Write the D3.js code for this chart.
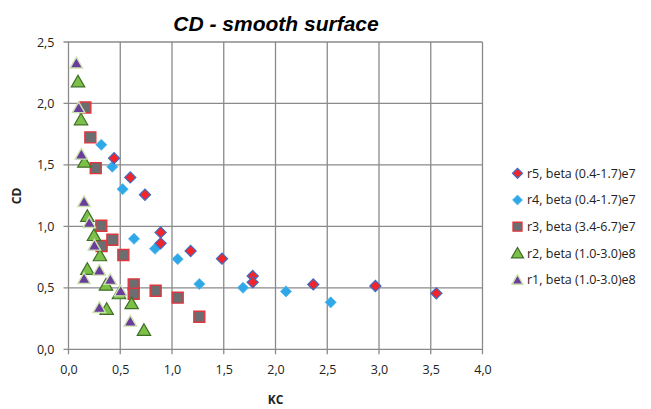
<!DOCTYPE html>
<html>
<head>
<meta charset="utf-8">
<script src="https://cdn.jsdelivr.net/npm/d3@7"></script>
<style>
  html, body { margin: 0; padding: 0; background: #fff; }
  svg { display: block; }
</style>
</head>
<body>
<svg id="chart" width="651" height="409"></svg>
<script>
// ---- data ----
const xTicks = [0, 0.5, 1.0, 1.5, 2.0, 2.5, 3.0, 3.5, 4.0];
const yTicks = [0, 0.5, 1.0, 1.5, 2.0, 2.5];

const r5KC = [0.44, 0.597, 0.739, 0.89, 0.89, 1.18, 1.483, 1.78, 1.78, 2.365, 2.965, 3.554];
const r5CD = [1.555, 1.398, 1.257, 0.951, 0.862, 0.80, 0.737, 0.596, 0.545, 0.528, 0.515, 0.455];

const r4KC = [0.317, 0.423, 0.523, 0.633, 0.836, 1.055, 1.264, 1.686, 2.101, 2.533];
const r4CD = [1.664, 1.485, 1.303, 0.899, 0.818, 0.734, 0.531, 0.501, 0.471, 0.382];

const r3KC = [0.163, 0.211, 0.263, 0.317, 0.32, 0.424, 0.53, 0.63, 0.63, 0.842, 1.055, 1.264];
const r3CD = [1.967, 1.724, 1.474, 1.005, 0.84, 0.891, 0.767, 0.528, 0.452, 0.476, 0.42, 0.265];

const r2KC = [0.092, 0.121, 0.153, 0.182, 0.246, 0.304, 0.182, 0.362, 0.488, 0.61, 0.369, 0.729];
const r2CD = [2.179, 1.87, 1.525, 1.084, 0.929, 0.764, 0.653, 0.525, 0.455, 0.374, 0.328, 0.157];

const r1KC = [0.076, 0.098, 0.124, 0.15, 0.201, 0.25, 0.298, 0.15, 0.404, 0.504, 0.298, 0.597];
const r1CD = [2.33, 1.967, 1.588, 1.203, 1.032, 0.848, 0.645, 0.577, 0.569, 0.476, 0.341, 0.23];

const seriesNames = ["r5, beta (0.4-1.7)e7", "r4, beta (0.4-1.7)e7", "r3, beta (3.4-6.7)e7", "r2, beta (1.0-3.0)e8", "r1, beta (1.0-3.0)e8"];

// ---- styles ----
const styles = {
  r5: { shape: "diamond", size: 62, fill: "#f2252b", stroke: "#3d6cc4", sw: 1.2 },
  r4: { shape: "diamond", size: 62, fill: "#2ea8e6", stroke: "#5cb8ec", sw: 0.8 },
  r3: { shape: "square", size: 120, fill: "#6b6d70", stroke: "#e2363c", sw: 1.4 },
  r2: { shape: "triangle", size: 78, fill: "#7cc04a", stroke: "#3f6f25", sw: 1.2 },
  r1: { shape: "triangle", size: 66, fill: "#6a3d9c", stroke: "#c9e2ad", sw: 1.4 }
};
const shapeType = { diamond: d3.symbolSquare, square: d3.symbolSquare, triangle: d3.symbolTriangle };
const shapeRot = { diamond: 45, square: 0, triangle: 0 };
const shapeDy = { diamond: 0, square: 0, triangle: 1.5 };

const series = [
  { key: "r4", name: seriesNames[1], xs: r4KC, ys: r4CD },
  { key: "r5", name: seriesNames[0], xs: r5KC, ys: r5CD },
  { key: "r3", name: seriesNames[2], xs: r3KC, ys: r3CD },
  { key: "r2", name: seriesNames[3], xs: r2KC, ys: r2CD },
  { key: "r1", name: seriesNames[4], xs: r1KC, ys: r1CD }
];
const legendOrder = ["r5", "r4", "r3", "r2", "r1"];

const svg = d3.select("#chart");
const x = d3.scaleLinear().domain([0, 4]).range([68.5, 482.5]);
const y = d3.scaleLinear().domain([0, 2.5]).range([349.3, 42]);
const fmt = d => d3.format(".1f")(d).replace(".", ",");
const gridColor = "#8a8a8a";
const tickFont = "'Open Sans', sans-serif";

// gridlines
svg.append("g").selectAll("line").data(xTicks).join("line")
  .attr("x1", d => x(d)).attr("x2", d => x(d))
  .attr("y1", y(2.5)).attr("y2", y(0) + 5)
  .attr("stroke", gridColor).attr("stroke-width", 1.3);
svg.append("g").selectAll("line").data(yTicks).join("line")
  .attr("x1", x(0) - 5).attr("x2", x(4))
  .attr("y1", d => y(d)).attr("y2", d => y(d))
  .attr("stroke", gridColor).attr("stroke-width", 1.3);

// axes via d3 axis (labels only)
const xAxis = svg.append("g").attr("transform", `translate(0,${y(0)})`)
  .call(d3.axisBottom(x).tickValues(xTicks).tickFormat(fmt).tickSize(0).tickPadding(16));
xAxis.select(".domain").remove();
xAxis.selectAll("text").attr("font-family", tickFont).attr("font-size", 12.5).attr("fill", "#222");

const yAxis = svg.append("g").attr("transform", `translate(${x(0)},0)`)
  .call(d3.axisLeft(y).tickValues(yTicks).tickFormat(fmt).tickSize(0).tickPadding(14));
yAxis.select(".domain").remove();
yAxis.selectAll("text").attr("font-family", tickFont).attr("font-size", 12.5).attr("fill", "#222");

// axis titles
svg.append("text").attr("x", 275.5).attr("y", 404)
  .attr("text-anchor", "middle").attr("font-family", tickFont)
  .attr("font-weight", "bold").attr("font-size", 12).attr("fill", "#222").text("KC");
svg.append("text").attr("transform", "translate(21,196) rotate(-90)")
  .attr("text-anchor", "middle").attr("font-family", tickFont)
  .attr("font-weight", "bold").attr("font-size", 12).attr("fill", "#222").text("CD");

// title
svg.append("text").attr("x", 276).attr("y", 30.5)
  .attr("text-anchor", "middle").attr("font-family", "'Liberation Sans', Arial, sans-serif")
  .attr("font-weight", "bold").attr("font-style", "italic").attr("font-size", 21)
  .attr("fill", "#000").text("CD - smooth surface");

// points
series.forEach(s => {
  const st = styles[s.key];
  const sym = d3.symbol().type(shapeType[st.shape]).size(st.size);
  const pts = s.xs.map((v, i) => [v, s.ys[i]]);
  svg.append("g").selectAll("path").data(pts).join("path")
    .attr("d", sym)
    .attr("transform", d => `translate(${x(d[0])},${y(d[1]) + shapeDy[st.shape]}) rotate(${shapeRot[st.shape]})`)
    .attr("fill", st.fill).attr("stroke", st.stroke).attr("stroke-width", st.sw);
});

// legend
const lg = svg.append("g");
legendOrder.forEach((k, i) => {
  const st = styles[k];
  const s = series.find(q => q.key === k);
  const cy = 173.3 + i * 26.7;
  const sz = st.shape === "square" ? 80 : st.size * 0.8;
  const sym = d3.symbol().type(shapeType[st.shape]).size(sz);
  lg.append("path").attr("d", sym)
    .attr("transform", `translate(517.5,${cy + (st.shape === "triangle" ? 1 : 0)}) rotate(${shapeRot[st.shape]})`)
    .attr("fill", st.fill).attr("stroke", st.stroke).attr("stroke-width", st.sw);
  lg.append("text").attr("x", 527).attr("y", cy).attr("dy", "0.35em")
    .attr("font-family", tickFont).attr("font-size", 12.5).attr("fill", "#222")
    .text(s.name);
});
</script>
</body>
</html>
